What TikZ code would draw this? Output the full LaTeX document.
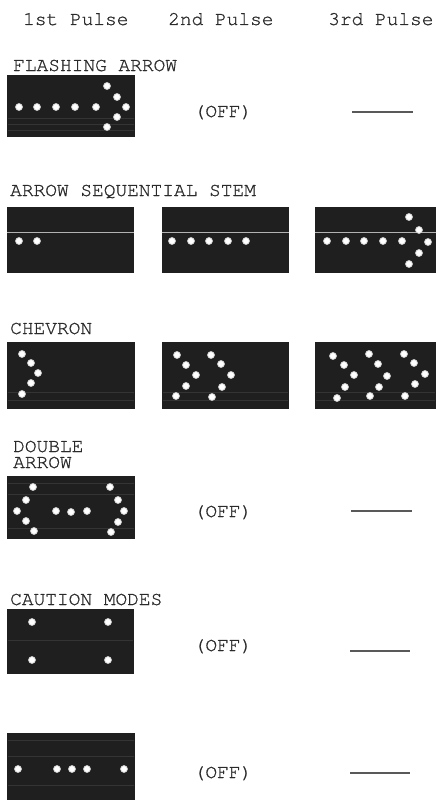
\documentclass[tikz,border=0pt]{standalone}
\usepackage{fontspec}
\setmainfont{TeX Gyre Cursor}[FakeBold=0.9]
\definecolor{panelgrey}{HTML}{1F1F1F}
\definecolor{texgrey}{HTML}{343434}
\definecolor{inkgrey}{HTML}{2A2A2A}
\begin{document}
\begin{tikzpicture}[x=1pt,y=-1pt,
  lbl/.style={anchor=base west, inner sep=0, text=inkgrey, font=\fontsize{19.5}{16}\selectfont},
  offtxt/.style={anchor=base, inner sep=0, text=inkgrey, font=\fontsize{19.5}{16}\selectfont},
  panel/.style={rectangle, fill=panelgrey, inner sep=0, minimum width=#1},
  panel/.default=128,
  led/.style={circle, fill=white, draw=gray!45, line width=0.7pt, inner sep=0, minimum size=7pt},
  tex/.style={texgrey, line width=0.8pt},
  stemline/.style={gray!60, line width=1pt},
  dashmark/.style={gray!70!black, line width=1.3pt}]
\useasboundingbox (0,0) rectangle (436,800);
\fill[white] (0,0) rectangle (436,800);

% header
\node[lbl] (h1) at (23,25) {1st Pulse};
\node[lbl] (h2) at (168,25) {2nd Pulse};
\node[lbl] (h3) at (328,25) {3rd Pulse};

% ---------- FLASHING ARROW ----------
\node[lbl] (t1) at (13,71) {FLASHING ARROW};
\node[panel, minimum height=62] (p11) at (71,106) {};
\foreach \yy in {118,124,130} \draw[tex] ([xshift=1]p11.west |- 0,\yy) -- ([xshift=-1]p11.east |- 0,\yy);
\foreach \x/\y [count=\i] in {19/107,37/107,56/107,75/107,96/107,107/86,117/97,126/107,117/117,107/127}
  \node[led] (a\i) at (\x,\y) {};
\node[offtxt] (o1) at (223,117) {(OFF)};
\draw[dashmark] (352,112) -- (413,112);

% ---------- ARROW SEQUENTIAL STEM ----------
\node[lbl] (t2) at (10,196) {ARROW SEQUENTIAL STEM};
\node[panel=127, minimum height=66] (p21) at (70.5,240) {};
\node[panel=127, minimum height=66] (p22) at (225.5,240) {};
\node[panel=121, minimum height=66] (p23) at (375.5,240) {};
\foreach \p in {p21,p22,p23} \draw[stemline] (\p.west |- 0,232) -- (\p.east |- 0,232);
\foreach \x/\y [count=\i] in {19/241,37/241}
  \node[led] (b\i) at (\x,\y) {};
\foreach \x/\y [count=\i] in {172/241,191/241,209/241,228/241,246/241}
  \node[led] (c\i) at (\x,\y) {};
\foreach \x/\y [count=\i] in {327/241,346/241,364/241,383/241,402/241,409/217,419/230,428/242,419/253,409/264}
  \node[led] (d\i) at (\x,\y) {};

% ---------- CHEVRON ----------
\node[lbl] (t3) at (10,334) {CHEVRON};
\node[panel, minimum height=67] (p31) at (71,375.5) {};
\node[panel=127, minimum height=67] (p32) at (225.5,375.5) {};
\node[panel=121, minimum height=67] (p33) at (375.5,375.5) {};
\foreach \p in {p31,p32,p33} {
  \draw[tex] ([xshift=1]\p.west |- 0,392) -- ([xshift=-1]\p.east |- 0,392);
  \draw[tex] ([xshift=1]\p.west |- 0,400) -- ([xshift=-1]\p.east |- 0,400);
}
\foreach \x/\y [count=\i] in {22/354,31/363,38/373,31/383,22/394}
  \node[led] (e\i) at (\x,\y) {};
\foreach \x/\y [count=\i] in {177/355,186/365,196/375,186/386,176/396,211/355,221/364,231/375,222/387,212/397}
  \node[led] (f\i) at (\x,\y) {};
\foreach \x/\y [count=\i] in {333/356,344/365,354/375,345/387,337/398,369/354,378/364,387/376,379/387,370/396,404/354,414/363,425/374,415/384,405/396}
  \node[led] (g\i) at (\x,\y) {};

% ---------- DOUBLE ARROW ----------
\node[lbl, align=left] (t4) at (13,468) {DOUBLE\\ARROW};
\node[panel, minimum height=63] (p41) at (71,507.5) {};
\foreach \yy in {483,494,528} \draw[tex] ([xshift=1]p41.west |- 0,\yy) -- ([xshift=-1]p41.east |- 0,\yy);
\foreach \x/\y [count=\i] in {33/487,26/500,17/511,26/521,34/531,56/511,71/512,87/511,110/487,118/500,124/511,118/522,111/532}
  \node[led] (k\i) at (\x,\y) {};
\node[offtxt] (o4) at (223,517) {(OFF)};
\draw[dashmark] (351,511) -- (412,511);

% ---------- CAUTION MODES ----------
\node[lbl] (t5) at (10,605) {CAUTION MODES};
\node[panel=127, minimum height=65] (p51) at (70.5,641.5) {};
\draw[tex] ([xshift=1]p51.west |- 0,640) -- ([xshift=-1]p51.east |- 0,640);
\foreach \x/\y [count=\i] in {32/622,108/622,32/660,108/660}
  \node[led] (m\i) at (\x,\y) {};
\node[offtxt] (o5) at (223,651) {(OFF)};
\draw[dashmark] (350,651) -- (410,651);

% ---------- last mode ----------
\node[panel, minimum height=67] (p61) at (71,766.5) {};
\foreach \yy in {740,756,785} \draw[tex] ([xshift=1]p61.west |- 0,\yy) -- ([xshift=-1]p61.east |- 0,\yy);
\foreach \x/\y [count=\i] in {18/769,57/769,72/769,87/769,124/769}
  \node[led] (n\i) at (\x,\y) {};
\node[offtxt] (o6) at (223,778) {(OFF)};
\draw[dashmark] (350,773) -- (410,773);
\end{tikzpicture}
\end{document}
